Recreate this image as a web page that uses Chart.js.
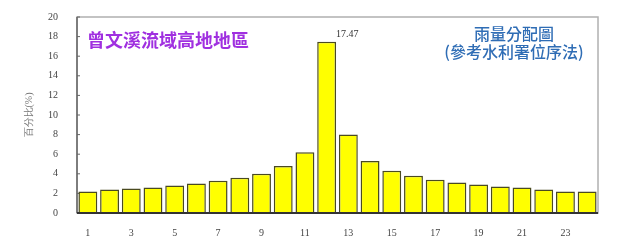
<!DOCTYPE html>
<html><head><meta charset="utf-8">
<script src="https://cdn.jsdelivr.net/npm/chart.js@4/dist/chart.umd.min.js"></script>
<style>html,body{margin:0;padding:0;background:#fff}#wrap{width:637px;height:251px}</style>
</head><body><div id="wrap"><canvas id="c"></canvas></div>
<script>
const categories = ['1','2','3','4','5','6','7','8','9','10','11','12','13','14','15','16','17','18','19','20','21','22','23','24'];
const rainPercent = [2.2,2.4,2.5,2.6,2.8,3.0,3.3,3.6,4.0,4.8,6.2,17.47,8.0,5.3,4.3,3.8,3.4,3.1,2.9,2.7,2.6,2.4,2.2,2.2];
const yTicks = [0,2,4,6,8,10,12,14,16,18,20];
const titleMain = '曾文溪流域高地地區';
const titleRight1 = '雨量分配圖';
const titleRight2 = '(參考水利署位序法)';
const yTitle = '百分比(%)';
const peakLabel = '17.47';

const deco = {
  id: 'deco',
  beforeDatasetsDraw(chart) {
    const {ctx, chartArea: a, scales: {y}} = chart;
    ctx.save();
    ctx.strokeStyle = '#b0b0b0'; ctx.lineWidth = 1.5;
    ctx.strokeRect(a.left, a.top, a.right - a.left, a.bottom - a.top);
    ctx.strokeStyle = '#666'; ctx.lineWidth = 1.5;
    ctx.beginPath(); ctx.moveTo(a.left, a.top); ctx.lineTo(a.left, a.bottom); ctx.stroke();
    ctx.lineWidth = 1;
    yTicks.forEach(v => { const py = y.getPixelForValue(v); ctx.beginPath(); ctx.moveTo(a.left, py); ctx.lineTo(a.left + 3, py); ctx.stroke(); });
    ctx.restore();
  },
  afterDatasetsDraw(chart) {
    const {ctx, chartArea: a} = chart;
    ctx.save();
    ctx.strokeStyle = '#333'; ctx.lineWidth = 2;
    ctx.beginPath(); ctx.moveTo(a.left, a.bottom); ctx.lineTo(a.right, a.bottom); ctx.stroke();
    ctx.font = 'bold 18px "Noto Sans CJK TC"'; ctx.fillStyle = '#a030e0'; ctx.textBaseline = 'middle'; ctx.textAlign = 'left';
    ctx.fillText(titleMain, 87, 40);
    ctx.font = '500 16px "Noto Sans CJK TC"'; ctx.fillStyle = '#2f6db5'; ctx.textAlign = 'center';
    ctx.fillText(titleRight1, 514, 34);
    ctx.fillText(titleRight2, 514, 52);
    const meta = chart.getDatasetMeta(0);
    const peakIdx = rainPercent.indexOf(Math.max(...rainPercent));
    const bar = meta.data[peakIdx];
    ctx.font = '10px "Liberation Serif"'; ctx.fillStyle = '#333'; ctx.textAlign = 'left';
    ctx.fillText(peakLabel, bar.x + bar.width / 2, bar.y - 7);
    ctx.restore();
  }
};

new Chart(document.getElementById('c'), {
  type: 'bar',
  data: { labels: categories, datasets: [{ data: rainPercent, backgroundColor: '#ffff00', borderColor: '#4a4a20', borderWidth: 1.5, barPercentage: 0.87, categoryPercentage: 1 }] },
  options: {
    responsive: true, maintainAspectRatio: false, animation: false,
    layout: { padding: { left: 0, top: 16, right: 39, bottom: 0 } },
    plugins: { legend: { display: false }, tooltip: { enabled: false } },
    scales: {
      x: {
        grid: { display: false }, border: { display: false },
        ticks: { autoSkip: false, maxRotation: 0, padding: 6, color: '#444', font: { family: 'Liberation Serif', size: 10 },
          callback: (v, i) => (i % 2 === 0 ? categories[i] : '') },
        afterFit: s => { s.height = 38; }
      },
      y: {
        min: 0, max: 20,
        grid: { display: false }, border: { display: false },
        afterBuildTicks: s => { s.ticks = yTicks.map(v => ({ value: v })); },
        ticks: { padding: 11, color: '#444', font: { family: 'Liberation Serif', size: 10 } },
        title: { display: true, text: yTitle, color: '#777', font: { family: 'Liberation Serif', size: 10 }, padding: { top: 23, bottom: 0 } },
        afterFit: s => { s.width = 77; }
      }
    }
  },
  plugins: [deco]
});
</script></body></html>
